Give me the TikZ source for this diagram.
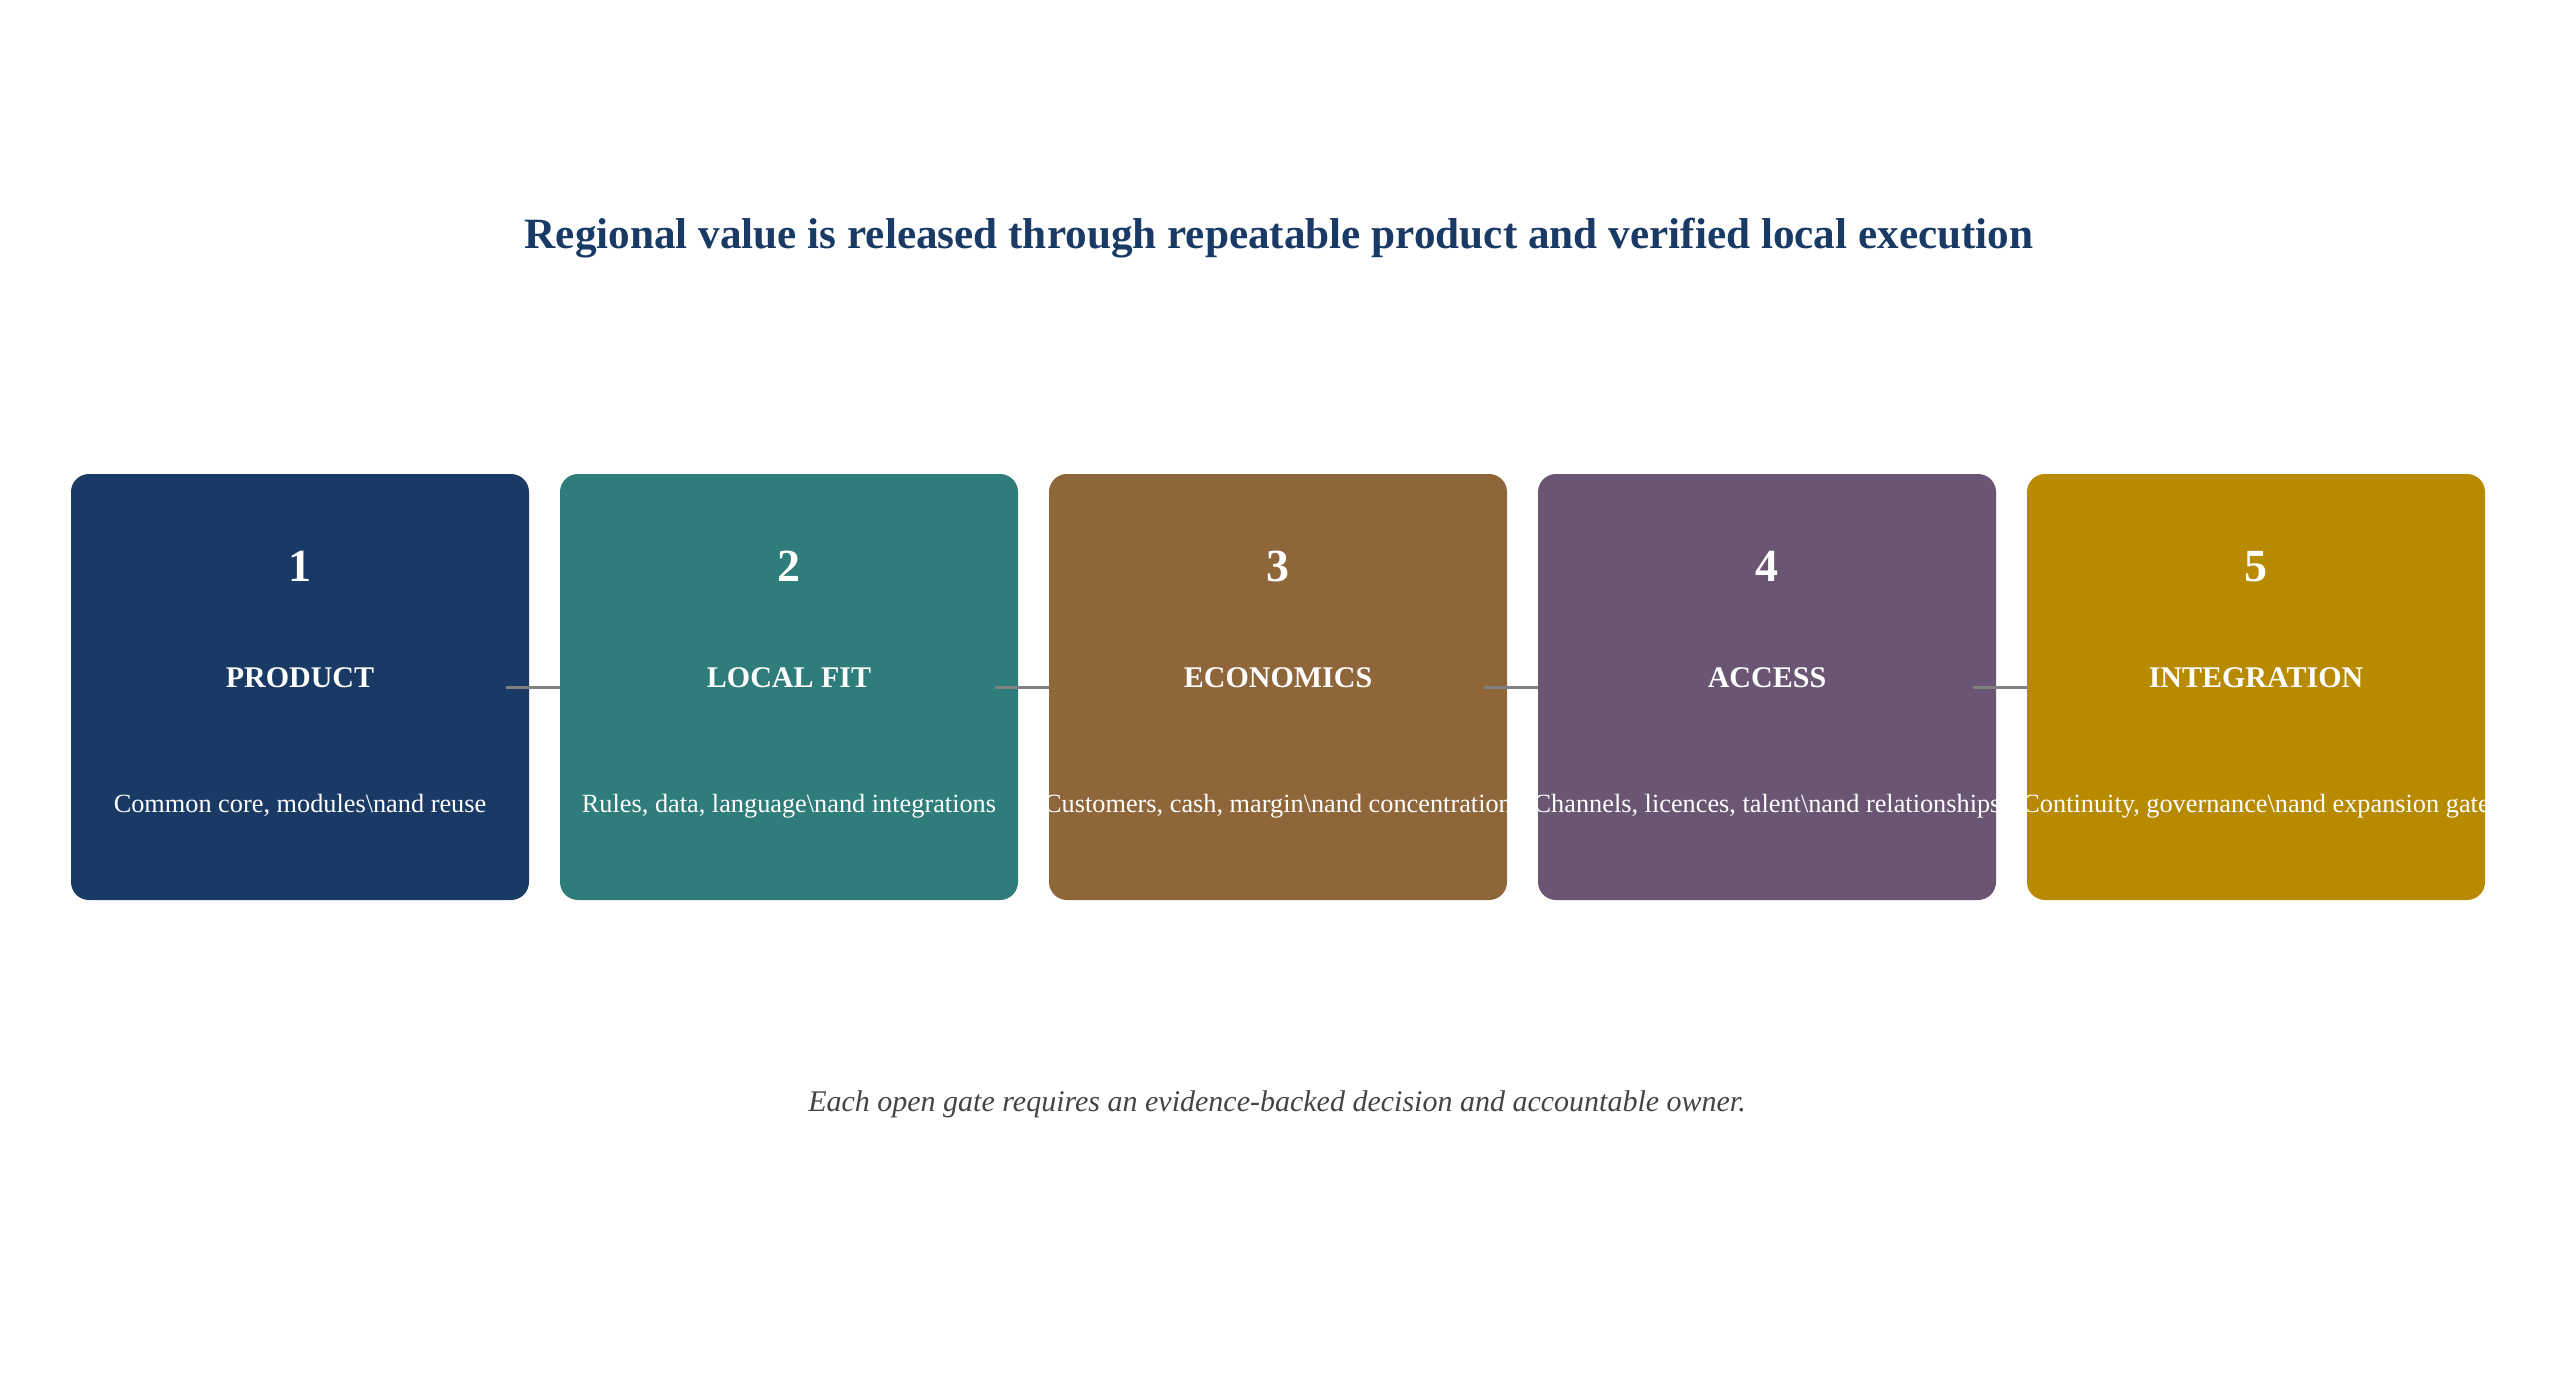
\documentclass[tikz,border=0pt]{standalone}
\usepackage{fontspec}
\setmainfont{Liberation Serif}
\usetikzlibrary{calc}
\definecolor{cnavy}{HTML}{1A3A66}
\definecolor{cteal}{HTML}{2E7D7A}
\definecolor{cbrown}{HTML}{8F653A}
\definecolor{cpurple}{HTML}{6A5673}
\definecolor{cgold}{HTML}{B88A00}
\definecolor{cline}{HTML}{808080}
\definecolor{cfoot}{HTML}{444444}
\tikzset{
  stagebox/.style={minimum width=458pt, minimum height=426pt, rounded corners=18pt, inner sep=0pt, draw=none},
  numtext/.style={anchor=base, text=white, font=\fontsize{46}{50}\selectfont\bfseries},
  labtext/.style={anchor=base, text=white, font=\fontsize{30}{34}\selectfont\bfseries},
  desctext/.style={anchor=base, text=white, font=\fontsize{26.3}{30}\selectfont},
  gate/.style={draw=cline, line width=3pt},
}
\begin{document}
\begin{tikzpicture}[x=1pt,y=-1pt]
\useasboundingbox (0,0) rectangle (2555,1375);
\node[anchor=base, text=cnavy, font=\fontsize{43.2}{48}\selectfont\bfseries] (title) at (1279,248) {Regional value is released through repeatable product and verified local execution};
\foreach \i/\cx/\col/\lab/\desc in {
  1/300/cnavy/PRODUCT/{Common core, modules\textbackslash{}nand reuse},
  2/789/cteal/LOCAL FIT/{Rules, data, language\textbackslash{}nand integrations},
  3/1278/cbrown/ECONOMICS/{Customers, cash, margin\textbackslash{}nand concentration},
  4/1767/cpurple/ACCESS/{Channels, licences, talent\textbackslash{}nand relationships},
  5/2256/cgold/INTEGRATION/{Continuity, governance\textbackslash{}nand expansion gate}}{
  \node[stagebox, fill=\col] (b\i) at (\cx,687) {};
  \node[numtext] (n\i) at (\cx,581.5) {\i};
  \node[labtext] (l\i) at (\cx,687) {\lab};
  \node[desctext] (d\i) at (\cx,812.5) {\desc};
}
\foreach \a/\b in {1/2,2/3,3/4,4/5}{
  \draw[gate] ($(b\a.east)+(-23,0)$) -- (b\b.west);
}
\node[anchor=base, text=cfoot, font=\fontsize{30}{34}\selectfont\itshape] (foot) at (1277,1111.5) {Each open gate requires an evidence-backed decision and accountable owner.};
\end{tikzpicture}
\end{document}
